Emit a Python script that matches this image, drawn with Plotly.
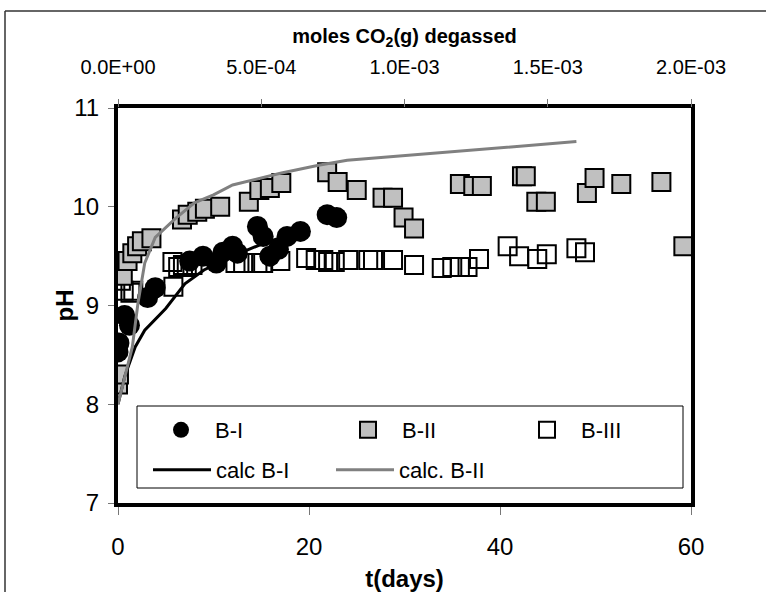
import plotly.graph_objects as go

# Measured pH, sample B-I
bi_t = [0.0, 0.1, 0.7, 1.2, 3.1, 3.9, 7.5, 8.9, 10.3, 11.0, 12.0, 12.5, 14.6, 15.2, 15.9, 16.8, 17.7, 19.1, 21.9, 22.9]
bi_ph = [8.53, 8.62, 8.90, 8.80, 9.08, 9.18, 9.45, 9.50, 9.43, 9.54, 9.60, 9.53, 9.80, 9.70, 9.50, 9.57, 9.70, 9.75, 9.92, 9.89]

# Measured pH, sample B-II
bii_t = [0.0, 0.1, 0.5, 1.0, 1.5, 2.0, 2.5, 3.5, 6.7, 7.3, 8.3, 9.1, 10.7, 13.7, 14.8, 15.9, 17.1,
         21.9, 23.0, 25.0, 27.7, 28.8, 29.9, 31.0, 35.8, 37.2, 38.1, 42.3, 42.7, 43.8, 44.8,
         49.1, 49.9, 52.7, 56.9, 59.2]
bii_ph = [8.20, 8.30, 9.30, 9.45, 9.53, 9.60, 9.65, 9.68, 9.87, 9.92, 9.95, 9.98, 10.00, 10.05, 10.17, 10.19, 10.24,
          10.35, 10.25, 10.17, 10.09, 10.09, 9.89, 9.78, 10.23, 10.21, 10.21, 10.31, 10.31, 10.05, 10.05,
          10.14, 10.29, 10.23, 10.25, 9.60]

# Measured pH, sample B-III
biii_t = [0.3, 0.6, 1.3, 1.6, 5.8, 5.7, 6.3, 6.8, 7.2, 7.8, 12.3, 13.1, 14.6, 15.2, 17.0, 19.7, 20.7,
          21.5, 22.0, 22.7, 24.1, 26.2, 26.7, 28.8, 31.0, 33.9, 35.0, 35.8, 36.6, 37.8, 40.8,
          42.0, 43.9, 44.9, 48.0, 48.9]
biii_ph = [9.25, 9.15, 9.13, 9.15, 9.19, 9.44, 9.39, 9.41, 9.39, 9.41, 9.43, 9.43, 9.43, 9.43, 9.45, 9.48, 9.46,
           9.46, 9.44, 9.44, 9.46, 9.46, 9.46, 9.46, 9.41, 9.38, 9.39, 9.39, 9.39, 9.47, 9.60,
           9.50, 9.47, 9.52, 9.58, 9.54]

# Calculated curves
calc_bi_t = [0.0, 0.7, 1.8, 2.8, 5.0, 7.0, 9.0, 12.0, 15.0, 19.0]
calc_bi_ph = [8.00, 8.28, 8.58, 8.75, 8.97, 9.22, 9.36, 9.50, 9.62, 9.75]
calc_bii_t = [0.0, 1.5, 2.1, 2.8, 3.9, 6.0, 8.0, 10.0, 12.0, 17.0, 21.0, 24.0, 48.0]
calc_bii_ph = [8.00, 8.58, 9.03, 9.43, 9.69, 9.88, 10.04, 10.12, 10.22, 10.34, 10.42, 10.47, 10.66]

# Axis ticks
t_ticks = [0, 20, 40, 60]
ph_ticks = [7, 8, 9, 10, 11]
co2_range = [0.0, 2.0e-3]
co2_ticks = [0.0, 5.0e-4, 1.0e-3, 1.5e-3, 2.0e-3]
co2_labels = ["0.0E+00", "5.0E-04", "1.0E-03", "1.5E-03", "2.0E-03"]

FONT = "Arial, Liberation Sans, sans-serif"
W, H = 766, 592

# plot area in pixels (for placing the legend entries and boxes)
L, R, T, B = 118, 691, 108, 503
PW, PH = R - L, B - T


def px_x(p):
    return (p - L) / PW


def px_y(p):
    return (B - p) / PH


fig = go.Figure()

fig.add_trace(go.Scatter(
    x=biii_t, y=biii_ph, mode="markers", name="B-III", legend="legend3",
    marker=dict(symbol="square-open", size=18, color="black", line=dict(width=2, color="black")),
))
fig.add_trace(go.Scatter(
    x=bii_t, y=bii_ph, mode="markers", name="B-II", legend="legend2",
    marker=dict(symbol="square", size=18, color="#c0c0c0", line=dict(width=2, color="black")),
))
fig.add_trace(go.Scatter(
    x=bi_t, y=bi_ph, mode="markers", name="B-I", legend="legend",
    marker=dict(symbol="circle", size=21, color="black", line=dict(width=0)),
))
fig.add_trace(go.Scatter(
    x=calc_bi_t, y=calc_bi_ph, mode="lines", name="calc B-I", legend="legend4",
    line=dict(color="black", width=3),
))
fig.add_trace(go.Scatter(
    x=calc_bii_t, y=calc_bii_ph, mode="lines", name="calc. B-II", legend="legend5",
    line=dict(color="#808080", width=3),
))
# carrier for the top (CO2) axis
fig.add_trace(go.Scatter(
    x=co2_range, y=[None, None], xaxis="x2", yaxis="y", mode="markers",
    showlegend=False, hoverinfo="skip",
))


def entry(x_pix, y_pix):
    return dict(
        orientation="h", xanchor="left", yanchor="middle",
        x=px_x(x_pix), y=px_y(y_pix), itemwidth=58,
        bgcolor="rgba(0,0,0,0)", borderwidth=0,
        font=dict(family=FONT, size=22, color="black"),
    )


fig.update_layout(
    width=W, height=H,
    margin=dict(l=L, r=W - R, t=T, b=H - B, autoexpand=False),
    paper_bgcolor="white", plot_bgcolor="white",
    font=dict(family=FONT, color="black"),
    showlegend=True,
    legend=entry(147, 430),
    legend2=entry(334, 430),
    legend3=entry(513, 430),
    legend4=entry(148, 470),
    legend5=entry(331, 470),
    xaxis=dict(
        range=[0, 60], tickvals=t_ticks, showgrid=False, zeroline=False, automargin=False,
        showline=True, linecolor="black", linewidth=4, mirror=True,
        ticks="outside", ticklen=8, tickwidth=1, tickcolor="#777777",
        ticklabelstandoff=11,
        tickfont=dict(size=24, family=FONT),
        title=dict(text="<b>t(days)</b>", font=dict(size=24, family=FONT), standoff=14),
    ),
    xaxis2=dict(
        overlaying="x", side="top", range=co2_range, automargin=False,
        tickvals=co2_ticks, ticktext=co2_labels, showgrid=False, zeroline=False,
        ticks="outside", ticklen=8, tickwidth=1, tickcolor="#777777",
        ticklabelstandoff=17,
        tickfont=dict(size=20, family=FONT),
        title=dict(text="<b>moles CO<sub>2</sub>(g) degassed</b>", font=dict(size=20, family=FONT), standoff=7),
    ),
    yaxis=dict(
        range=[7, 11], tickvals=ph_ticks, showgrid=False, zeroline=False, automargin=False,
        showline=True, linecolor="black", linewidth=4, mirror=True,
        ticks="outside", ticklen=6, tickwidth=1, tickcolor="#777777",
        ticklabelstandoff=4,
        tickfont=dict(size=24, family=FONT),
    ),
    annotations=[
        # y-axis title
        dict(text="<b>pH</b>", xref="paper", yref="paper", x=px_x(64), y=0.5,
             xanchor="center", yanchor="middle", textangle=-90, showarrow=False,
             font=dict(size=24, family=FONT, color="black")),
    ],
    shapes=[
        # legend box
        dict(type="rect", xref="paper", yref="paper", layer="above",
             x0=px_x(137), x1=px_x(683), y0=px_y(488), y1=px_y(406),
             line=dict(color="black", width=1), fillcolor="white"),
        # outer chart frame (left and top edges; the rest lies outside the page)
        dict(type="line", xref="paper", yref="paper", layer="below",
             x0=px_x(5), x1=px_x(5), y0=px_y(H), y1=px_y(11),
             line=dict(color="#333333", width=1.5)),
        dict(type="line", xref="paper", yref="paper", layer="below",
             x0=px_x(5), x1=px_x(W), y0=px_y(11), y1=px_y(11),
             line=dict(color="#333333", width=1.5)),
    ],
)

fig.write_html("out.html", post_script="document.documentElement.style.overflow='hidden';document.body.style.overflow='hidden';")
